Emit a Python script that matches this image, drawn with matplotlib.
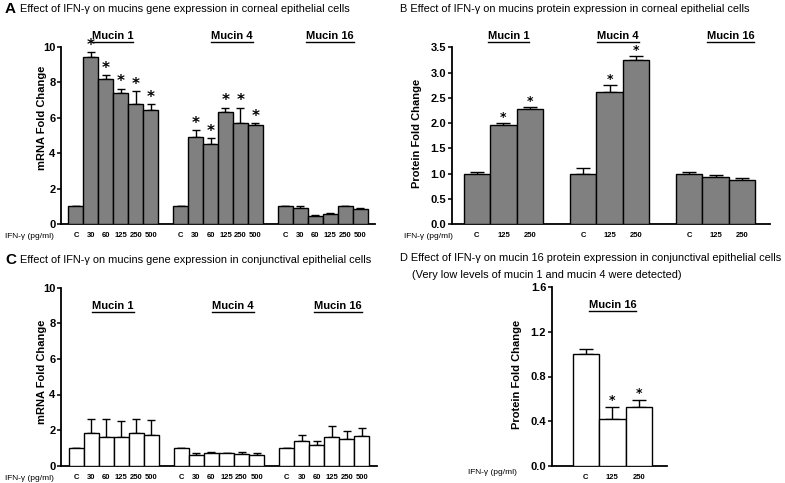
import numpy as np
import matplotlib
matplotlib.use("Agg")
import matplotlib.pyplot as plt
from matplotlib import font_manager
from matplotlib.lines import Line2D

# pick a narrow Arial-like face if present
names = {f.name for f in font_manager.fontManager.ttflist}
base = "Liberation Sans Narrow" if "Liberation Sans Narrow" in names else "Liberation Sans"
plt.rcParams['font.family'] = [base, 'DejaVu Sans']

# ---- data ----
doses_6 = ['C', '30', '60', '125', '250', '500']
doses_3 = ['C', '125', '250']
mucins = ['Mucin 1', 'Mucin 4', 'Mucin 16']

# A: mRNA, corneal
a_mean = [[1.0, 9.45, 8.18, 7.42, 6.77, 6.43],
          [1.0, 4.92, 4.51, 6.30, 5.71, 5.58],
          [1.0, 0.93, 0.45, 0.55, 1.00, 0.87]]
a_err = [[0.0, 0.25, 0.22, 0.23, 0.75, 0.34],
         [0.0, 0.38, 0.36, 0.28, 0.87, 0.10],
         [0.0, 0.07, 0.05, 0.07, 0.03, 0.05]]
a_star = [[0, 1, 1, 1, 1, 1], [0, 1, 1, 1, 1, 1], [0, 0, 0, 0, 0, 0]]

# B: protein, corneal
b_mean = [[1.0, 1.97, 2.27], [1.0, 2.61, 3.24], [1.0, 0.94, 0.88]]
b_err = [[0.03, 0.04, 0.05], [0.11, 0.14, 0.09], [0.03, 0.03, 0.03]]
b_star = [[0, 1, 1], [0, 1, 1], [0, 0, 0]]

# C: mRNA, conjunctival
c_mean = [[1.0, 1.86, 1.64, 1.64, 1.86, 1.73],
          [1.0, 0.60, 0.69, 0.69, 0.65, 0.61],
          [1.0, 1.38, 1.15, 1.60, 1.49, 1.66]]
c_err = [[0.0, 0.74, 0.96, 0.87, 0.78, 0.84],
         [0.0, 0.11, 0.07, 0.05, 0.13, 0.12],
         [0.0, 0.33, 0.23, 0.61, 0.48, 0.44]]

# D: mucin 16 protein, conjunctival
d_mean = [1.0, 0.42, 0.53]
d_err = [0.05, 0.11, 0.06]
d_star = [0, 1, 1]

GRAY = '#808080'
W, H = 785, 483
fig = plt.figure(figsize=(W / 100, H / 100), dpi=100)


def px_rect(x0, x1, ytop, ybot):
    return [x0 / W, 1 - ybot / H, (x1 - x0) / W, (ybot - ytop) / H]


def style_axis(ax, ylim, yticks, fmt, ylabel, lab_xy):
    ax.set_ylim(*ylim)
    ax.set_yticks(yticks)
    ax.set_yticklabels([fmt.format(v) for v in yticks], fontsize=8, fontweight='bold')
    for s in ['top', 'right']:
        ax.spines[s].set_visible(False)
    ax.spines['left'].set_linewidth(1.3)
    ax.spines['bottom'].set_linewidth(1.3)
    ax.tick_params(axis='y', length=3, width=1.1, pad=1)
    ax.tick_params(axis='x', length=0, pad=6)
    ax.set_ylabel(ylabel, fontsize=8, fontweight='bold')
    ax.yaxis.set_label_coords(*lab_xy)


def draw_bars(ax, pos, mean, err, color, capsize, stars=None, star_size=10, star_off=0.0):
    ax.bar(pos, mean, width=1.0, color=color, edgecolor='black', linewidth=1.0, zorder=3)
    ax.errorbar(pos, mean, yerr=[np.zeros(len(err)), err], fmt='none', ecolor='black',
                elinewidth=1.0, capsize=capsize, capthick=1.0, zorder=2)
    if stars is not None:
        for p, m, e, s in zip(pos, mean, err, stars):
            if s:
                ax.text(p, m + e + star_off, '*', ha='center', va='bottom',
                        fontsize=star_size, fontweight='bold', family='DejaVu Sans')


def group_title(ax, x, y, text):
    t = ax.text(x, y, text, transform=ax.get_xaxis_transform(), ha='center', va='bottom',
                fontsize=8, fontweight='bold', clip_on=False)
    return t


titles = []

# ---- A ----
axA = fig.add_axes(px_rect(61, 375, 47, 224))
posA = []
for g in range(3):
    pos = np.arange(6) + 7 * g
    posA.extend(pos)
    draw_bars(axA, pos, a_mean[g], a_err[g], GRAY, 2.7, a_star[g], 11, -0.05)
axA.set_xlim(-1, 20)
axA.set_xticks(posA)
axA.set_xticklabels(doses_6 * 3, fontsize=5.5, fontweight='bold')
style_axis(axA, (0, 10), range(0, 11, 2), '{:d}', 'mRNA Fold Change', (-0.045, 0.6))
for x, m in zip([2.45, 10.43, 17.0], mucins):
    titles.append(group_title(axA, x, 1.035, m))

# ---- B ----
axB = fig.add_axes(px_rect(451.7, 770, 47.3, 224))
posB = []
for g in range(3):
    pos = np.arange(3) + 4 * g
    posB.extend(pos)
    draw_bars(axB, pos, b_mean[g], b_err[g], GRAY, 4.8, b_star[g], 9, -0.02)
axB.set_xlim(-0.95, 11.05)
axB.set_xticks(posB)
axB.set_xticklabels(doses_3 * 3, fontsize=5.5, fontweight='bold')
style_axis(axB, (0, 3.5), np.arange(0, 3.51, 0.5), '{:.1f}', 'Protein Fold Change', (-0.092, 0.515))
for x, m in zip([1.2, 5.33, 9.56], mucins):
    titles.append(group_title(axB, x, 1.035, m))

# ---- C ----
axC = fig.add_axes(px_rect(61, 377, 287.7, 465.7))
posC = []
for g in range(3):
    pos = np.arange(6) + 7 * g
    posC.extend(pos)
    draw_bars(axC, pos, c_mean[g], c_err[g], 'white', 2.7)
axC.set_xlim(-1, 20)
axC.set_xticks(posC)
axC.set_xticklabels(doses_6 * 3, fontsize=5.5, fontweight='bold')
style_axis(axC, (0, 10), range(0, 11, 2), '{:d}', 'mRNA Fold Change', (-0.045, 0.526))
for x, m in zip([2.45, 10.43, 17.4], mucins):
    titles.append(group_title(axC, x, 0.87, m))

# ---- D ----
axD = fig.add_axes(px_rect(551.7, 666.7, 287.3, 465.7))
posD = np.arange(3)
draw_bars(axD, posD, d_mean, d_err, 'white', 4.8, d_star, 9, -0.005)
axD.set_xlim(-1.29, 3.05)
axD.set_xticks(posD)
axD.set_xticklabels(doses_3, fontsize=5.5, fontweight='bold')
style_axis(axD, (0, 1.6), [0.0, 0.4, 0.8, 1.2, 1.6], '{:.1f}', 'Protein Fold Change', (-0.255, 0.514))
titles.append(group_title(axD, 1.0, 0.87, 'Mucin 16'))

# ---- dose axis captions ----
for x, y in [(5, 237), (404, 237), (5, 479), (468, 473)]:
    fig.text(x / W, 1 - y / H, 'IFN-γ (pg/ml)', fontsize=6, va='center', ha='left')

# ---- panel titles ----
fs = 7.9
fig.text(5 / W, 1 - 9 / H, 'A', fontsize=11, fontweight='bold', va='center')
fig.text(20 / W, 1 - 9 / H, 'Effect of IFN-γ on mucins gene expression in corneal epithelial cells',
         fontsize=fs, va='center')
fig.text(400 / W, 1 - 9 / H, 'B Effect of IFN-γ on mucins protein expression in corneal epithelial cells',
         fontsize=fs, va='center')
fig.text(5 / W, 1 - 260 / H, 'C', fontsize=11, fontweight='bold', va='center')
fig.text(20 / W, 1 - 260 / H, 'Effect of IFN-γ on mucins gene expression in conjunctival epithelial cells',
         fontsize=fs, va='center')
fig.text(400 / W, 1 - 258 / H, 'D Effect of IFN-γ on mucin 16 protein expression in conjunctival epithelial cells',
         fontsize=fs, va='center')
fig.text(412 / W, 1 - 275 / H, '(Very low levels of mucin 1 and mucin 4 were detected)',
         fontsize=fs, va='center')

# underline the mucin group titles
fig.canvas.draw()
r = fig.canvas.get_renderer()
for t in titles:
    bb = t.get_window_extent(r)
    y = (bb.y0 - 1) / H
    fig.add_artist(Line2D([bb.x0 / W, bb.x1 / W], [y, y], color='black', linewidth=1.0))

fig.savefig('out.png', dpi=100)
